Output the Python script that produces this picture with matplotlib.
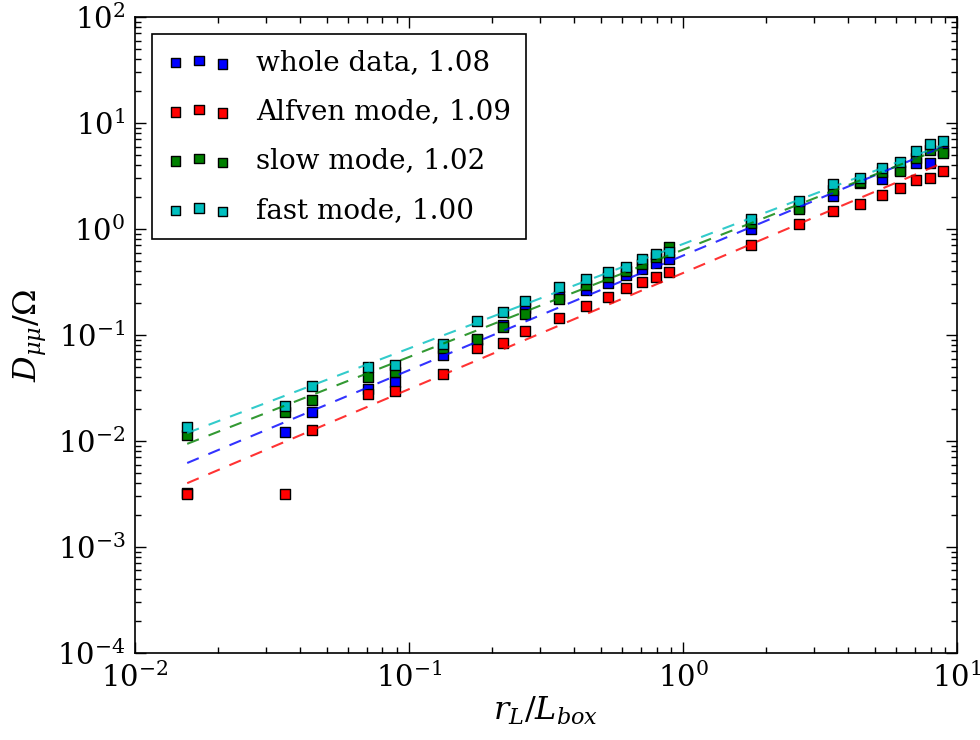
import numpy as np
import matplotlib
matplotlib.use("Agg")
import matplotlib.pyplot as plt

plt.rcParams['font.family'] = ['DejaVu Serif']
plt.rcParams['mathtext.fontset'] = 'dejavuserif'

# r_L / L_box sample points
x = [0.0155, 0.0354, 0.0443, 0.0709, 0.0886, 0.133, 0.177, 0.221, 0.266,
     0.354, 0.443, 0.532, 0.620, 0.709, 0.797, 0.886, 1.77, 2.66, 3.54,
     4.43, 5.32, 6.20, 7.09, 7.97, 8.86]

# D_mumu / Omega for each data set
whole = [0.0032, 0.0122, 0.0189, 0.031, 0.036, 0.0648, 0.090, 0.124, 0.180,
         0.233, 0.263, 0.311, 0.368, 0.417, 0.474, 0.521, 0.993, 1.60, 2.05,
         2.70, 2.94, 3.60, 4.22, 4.24, 5.50]
alfven = [0.00316, 0.00313, 0.0127, 0.0277, 0.0298, 0.0426, 0.0749, 0.0835,
          0.109, 0.146, 0.188, 0.227, 0.276, 0.318, 0.355, 0.395, 0.702, 1.12,
          1.49, 1.72, 2.11, 2.45, 2.90, 3.05, 3.52]
slow = [0.0114, 0.0188, 0.0244, 0.0404, 0.0445, 0.0754, 0.0917, 0.118, 0.158,
        0.218, 0.296, 0.352, 0.40, 0.47, 0.54, 0.681, 1.15, 1.53, 2.33,
        2.80, 3.45, 3.52, 4.68, 5.56, 5.18]
fast = [0.0136, 0.0215, 0.0333, 0.0496, 0.0521, 0.0828, 0.1355, 0.165, 0.211,
        0.286, 0.340, 0.395, 0.441, 0.521, 0.577, 0.603, 1.24, 1.84, 2.64,
        3.05, 3.79, 4.31, 5.48, 6.30, 6.72]

names = ["whole data", "Alfven mode", "slow mode", "fast mode"]
slopes = [1.08, 1.09, 1.02, 1.00]
# power-law fit values at the first and last x
fit_lo = [0.0062, 0.0040, 0.0094, 0.0119]
fit_hi = [5.94, 4.20, 5.80, 6.20]

colors = ['b', 'r', 'g', 'c']
series = [whole, alfven, slow, fast]

fig = plt.figure(figsize=(9.8, 7.4), dpi=100)
ax = fig.add_axes([0.1378, 0.1176, 0.8388, 0.8594])

for ys, c, name, s in zip(series, colors, names, slopes):
    ax.scatter(x, ys, marker='s', s=45, c=c, edgecolors='k', linewidths=1.0,
               label="%s, %.2f" % (name, s), zorder=2)

for lo, hi, c in zip(fit_lo, fit_hi, colors):
    ax.plot([x[0], x[-1]], [lo, hi], color=c, linestyle='--', dashes=(6, 5),
            linewidth=1.5, alpha=0.8, zorder=3)

ax.set_xscale('log')
ax.set_yscale('log')
ax.set_xlim(1e-2, 1e1)
ax.set_ylim(1e-4, 1e2)

ax.tick_params(which='both', direction='in', top=True, right=True,
               labelsize=21)
ax.tick_params(which='major', length=8, width=1, pad=7)
ax.tick_params(which='minor', length=4, width=1)
for sp in ax.spines.values():
    sp.set_linewidth(1.2)

ax.set_xlabel(r'$r_L/L_{box}$', fontsize=23, labelpad=1)
ax.set_ylabel(r'$D_{\mu\mu}/\Omega$', fontsize=23, labelpad=6)

leg = ax.legend(loc='upper left', scatterpoints=3, fontsize=20,
                fancybox=False, framealpha=1, edgecolor='k',
                borderaxespad=0.6, handlelength=2.3, handletextpad=0.9,
                labelspacing=0.8, borderpad=0.55)
leg.get_frame().set_linewidth(1.2)

fig.savefig('out.png', dpi=100)
